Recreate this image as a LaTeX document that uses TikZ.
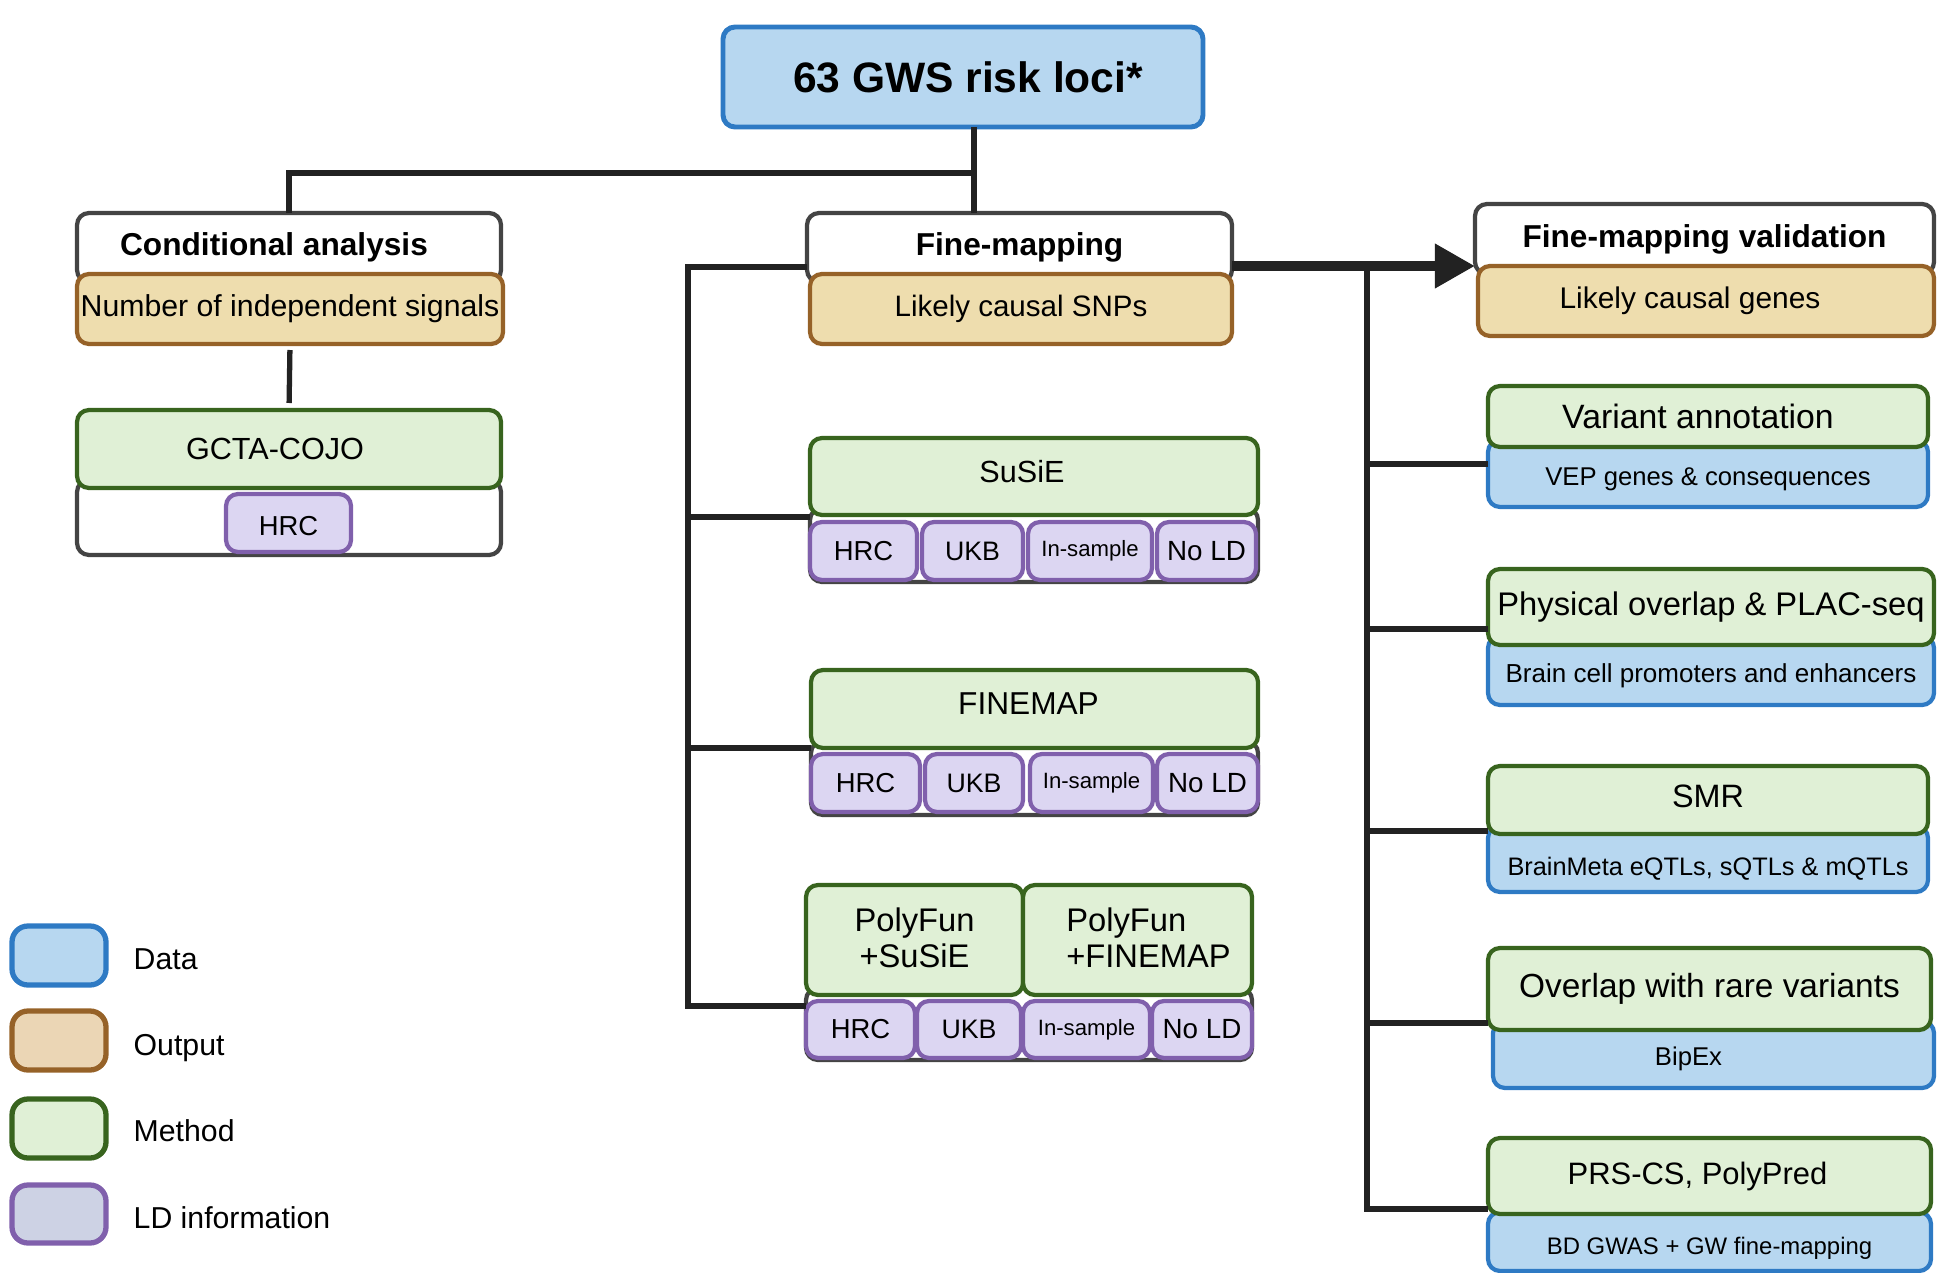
\documentclass[tikz,border=0pt]{standalone}
\usepackage{fontspec}
\setmainfont{Liberation Sans}
\usetikzlibrary{arrows.meta}
\definecolor{dataF}{HTML}{B7D7F0}
\definecolor{dataB}{HTML}{2E7AC4}
\definecolor{outF}{HTML}{EEDDAE}
\definecolor{outB}{HTML}{966228}
\definecolor{methF}{HTML}{E0F0D6}
\definecolor{methB}{HTML}{38641E}
\definecolor{ldF}{HTML}{DCD6F2}
\definecolor{ldB}{HTML}{8060AC}
\definecolor{legLdF}{HTML}{CDD2E4}
\definecolor{legOutF}{HTML}{EBD6B5}
\definecolor{headB}{HTML}{444444}
\definecolor{lineC}{HTML}{222222}
\newcommand{\fz}[1]{\fontsize{#1}{#1}\selectfont}
\newcommand{\vsh}[2]{\raisebox{#1}[\height][\depth]{#2}}
\newcommand{\mkbox}[7]{%
  \pgfmathsetmacro{\mkw}{(#5-#3)*0.01}%
  \pgfmathsetmacro{\mkh}{(#6-#4)*0.01}%
  \node[#1, minimum width=\mkw cm, minimum height=\mkh cm, anchor=north west] (#2) at (#3,#4) {#7};}
\tikzset{
  base/.style={rounded corners=0.12cm, line width=1.2pt, inner sep=0pt, outer sep=0pt, text=black, align=center},
  databox/.style={base, draw=dataB, fill=dataF},
  outbox/.style={base, draw=outB, fill=outF},
  methbox/.style={base, draw=methB, fill=methF},
  ldbox/.style={base, draw=ldB, fill=ldF},
  headbox/.style={base, draw=headB, fill=white},
  legbox/.style={base, rounded corners=0.16cm, line width=1.5pt},
  conn/.style={draw=lineC, line width=1.5pt},
  bigarrow/.style={draw=lineC, line width=2.8pt, -{Triangle[length=0.4cm,width=0.42cm]}},
  legtext/.style={anchor=base west, font=\fz{8.6}, inner sep=0pt},
}
\begin{document}
\begin{tikzpicture}[x=0.01cm, y=-0.01cm]
\useasboundingbox (0,0) rectangle (1938,1273);

% ---- title
\mkbox{databox, line width=1.4pt, font={\bfseries\fz{12.1}}}{top}{723}{27}{1203}{127}{\hspace*{0.1cm}63 GWS risk loci*}

% ---- conditional analysis
\mkbox{headbox, font={\bfseries\fz{9}}}{condh}{77}{213}{501}{282}{\hspace*{-0.3cm}Conditional analysis}
\mkbox{outbox, font={\fz{8.6}}}{condo}{77}{274}{503}{344}{Number of independent signals}
\mkbox{headbox}{cojorow}{77}{480}{501}{555}{}
\mkbox{methbox, font={\fz{8.7}}}{cojo}{77}{410}{501}{488}{\hspace*{-0.28cm}GCTA-COJO}
\mkbox{ldbox, font={\fz{7.8}}}{cojold}{226}{494}{351}{552}{\vsh{-0.03cm}{HRC}}

% ---- fine-mapping
\mkbox{headbox, font={\bfseries\fz{9}}}{fmh}{807}{213}{1232}{282}{Fine-mapping}
\mkbox{outbox, font={\fz{8.4}}}{fmo}{810}{274}{1232}{344}{Likely causal SNPs}

% SuSiE
\mkbox{headbox}{susrow}{810}{508}{1258}{582}{}
\mkbox{methbox, font={\fz{8.7}}}{sus}{810}{438}{1258}{515}{\hspace*{-0.24cm}\vsh{0.05cm}{SuSiE}}
\mkbox{ldbox, font={\fz{7.8}}}{sus1}{810}{522}{917}{580}{HRC}
\mkbox{ldbox, font={\fz{7.6}}}{sus2}{922}{522}{1023}{580}{UKB}
\mkbox{ldbox, font={\fz{6.3}}}{sus3}{1028}{522}{1152}{580}{In-sample}
\mkbox{ldbox, font={\fz{7.9}}}{sus4}{1157}{522}{1256}{580}{No LD}

% FINEMAP
\mkbox{headbox}{fmaprow}{811}{741}{1258}{815}{}
\mkbox{methbox, font={\fz{9}}}{fmap}{811}{670}{1258}{748}{\hspace*{-0.12cm}\vsh{0.05cm}{FINEMAP}}
\mkbox{ldbox, font={\fz{7.8}}}{fmap1}{811}{754}{920}{812}{HRC}
\mkbox{ldbox, font={\fz{7.6}}}{fmap2}{925}{754}{1023}{812}{UKB}
\mkbox{ldbox, font={\fz{6.3}}}{fmap3}{1030}{754}{1153}{812}{In-sample}
\mkbox{ldbox, font={\fz{7.9}}}{fmap4}{1157}{754}{1258}{812}{No LD}

% PolyFun
\mkbox{headbox}{pfrow}{806}{988}{1252}{1060}{}
\mkbox{methbox, font={\fontsize{9.3}{10.2}\selectfont}}{pfs}{806}{885}{1023}{995}{\vsh{-0.02cm}{\begin{tabular}{@{}c@{}}PolyFun\\+SuSiE\end{tabular}}}
\mkbox{methbox, font={\fontsize{9.3}{10.2}\selectfont}}{pff}{1023}{885}{1252}{995}{\hspace*{0.22cm}\vsh{-0.02cm}{\begin{tabular}{@{}l@{}}PolyFun\\+FINEMAP\end{tabular}}}
\mkbox{ldbox, font={\fz{7.8}}}{pf1}{806}{1001}{915}{1058}{HRC}
\mkbox{ldbox, font={\fz{7.6}}}{pf2}{917}{1001}{1021}{1058}{UKB}
\mkbox{ldbox, font={\fz{6.3}}}{pf3}{1023}{1001}{1150}{1058}{In-sample}
\mkbox{ldbox, font={\fz{7.9}}}{pf4}{1152}{1001}{1252}{1058}{No LD}

% ---- validation
\mkbox{headbox, font={\bfseries\fz{9}}}{valh}{1475}{204}{1934}{274}{Fine-mapping validation}
\mkbox{outbox, font={\fz{8.5}}}{valo}{1478}{266}{1934}{336}{\hspace*{-0.32cm}Likely causal genes}

\mkbox{databox, font={\fz{7.3}}}{vad}{1488}{440}{1928}{507}{\vsh{-0.06cm}{VEP genes \& consequences}}
\mkbox{methbox, font={\fz{9.6}}}{vam}{1488}{386}{1928}{447}{\hspace*{-0.2cm}Variant annotation}

\mkbox{databox, font={\fz{7.4}}}{pod}{1488}{636}{1934}{705}{\vsh{-0.05cm}{Brain cell promoters and enhancers}}
\mkbox{methbox, font={\fz{9.3}}}{pom}{1488}{569}{1934}{645}{Physical overlap \& PLAC-seq}

\mkbox{databox, font={\fz{7.2}}}{smrd}{1488}{826}{1928}{892}{\vsh{-0.1cm}{BrainMeta eQTLs, sQTLs \& mQTLs}}
\mkbox{methbox, font={\fz{9.2}}}{smrm}{1488}{766}{1928}{834}{\vsh{0.04cm}{SMR}}

\mkbox{databox, font={\fz{7.3}}}{ord}{1493}{1021}{1934}{1088}{\hspace*{-0.5cm}\vsh{-0.04cm}{BipEx}}
\mkbox{methbox, font={\fz{9.5}}}{orm}{1488}{948}{1931}{1030}{Overlap with rare variants}

\mkbox{databox, font={\fz{6.8}}}{prsd}{1488}{1212}{1931}{1271}{\vsh{-0.07cm}{BD GWAS + GW fine-mapping}}
\mkbox{methbox, font={\fz{8.8}}}{prsm}{1488}{1138}{1931}{1214}{\hspace*{-0.24cm}PRS-CS, PolyPred}

% ---- connectors
\coordinate (tj) at (974,173);
\draw[conn] (top.south -| tj) -- (fmh.north -| tj);
\draw[conn] (tj) -| (condh.north);
\draw[conn, shorten <=0.06cm, shorten >=0.07cm] (condo.south) -- (cojo.north);

\coordinate (fl) at (688,267);
\coordinate (fb1) at (688,517);
\coordinate (fb2) at (688,748);
\coordinate (fb3) at (688,1006);
\draw[conn] (fmh.west |- fl) -- (fl) -- (fb3) -- (pfrow.west |- fb3);
\draw[conn] (fb1) -- (susrow.west |- fb1);
\draw[conn] (fb2) -- (fmaprow.west |- fb2);

\coordinate (ar) at (1367,266);
\coordinate (rb1) at (1367,464);
\coordinate (rb2) at (1367,629);
\coordinate (rb3) at (1367,831);
\coordinate (rb4) at (1367,1023);
\coordinate (rb5) at (1367,1209);
\draw[conn] (ar) -- (rb5) -- (prsm.west |- rb5);
\draw[conn] (rb1) -- (vad.west |- rb1);
\draw[conn] (rb2) -- (pom.west |- rb2);
\draw[conn] (rb3) -- (smrm.west |- rb3);
\draw[conn] (rb4) -- (orm.west |- rb4);
\draw[bigarrow] (fmh.east |- ar) -- (valh.west |- ar);

% ---- legend
\mkbox{legbox, draw=dataB, fill=dataF}{lg1}{12}{926}{106}{985}{}
\mkbox{legbox, draw=outB, fill=legOutF}{lg2}{12}{1011}{106}{1070}{}
\mkbox{legbox, draw=methB, fill=methF}{lg3}{12}{1099}{106}{1158}{}
\mkbox{legbox, draw=ldB, fill=legLdF}{lg4}{12}{1185}{106}{1243}{}
\node[legtext] (lt1) at (133,969) {Data};
\node[legtext] (lt2) at (133,1055) {Output};
\node[legtext] (lt3) at (133,1141) {Method};
\node[legtext] (lt4) at (133,1228) {LD information};
\end{tikzpicture}
\end{document}
